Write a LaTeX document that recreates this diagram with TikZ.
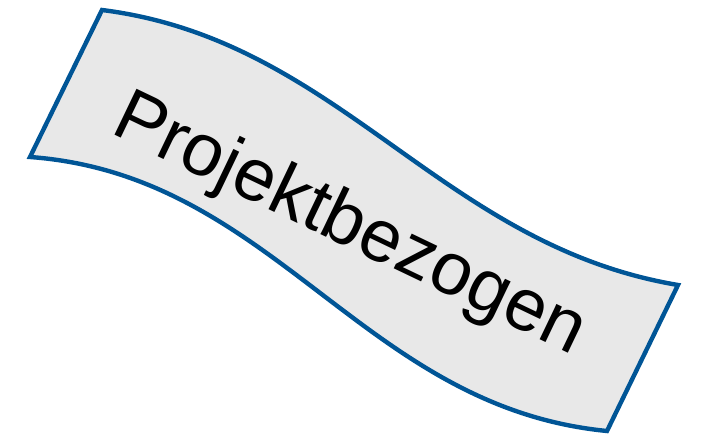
\documentclass[tikz,border=0pt]{standalone}
\usepackage{fontspec}
\setmainfont{Liberation Sans}
\definecolor{bandblue}{RGB}{0,85,150}
\definecolor{bandfill}{RGB}{232,232,232}
\tikzset{
  band/.style={draw=bandblue, fill=bandfill, line width=4.4pt, line join=miter},
  bandtext/.style={inner sep=0pt, anchor=base, rotate=-25.6, font=\fontsize{74}{80}\selectfont, text=black}
}
\begin{document}
\begin{tikzpicture}[x=1pt,y=-1pt]
\useasboundingbox (0,0) rectangle (703,438);
\coordinate (tl) at (102,10);
\coordinate (tr) at (678,285);
\coordinate (br) at (607,431);
\coordinate (bl) at (30,157);
\path[band] (tl) .. controls (340,40) and (440,245) .. (tr)
  -- (br) .. controls (362,407) and (275,175) .. (bl) -- cycle;
\node[bandtext] (label) at (341,244) {Projektbezogen};
\end{tikzpicture}
\end{document}
